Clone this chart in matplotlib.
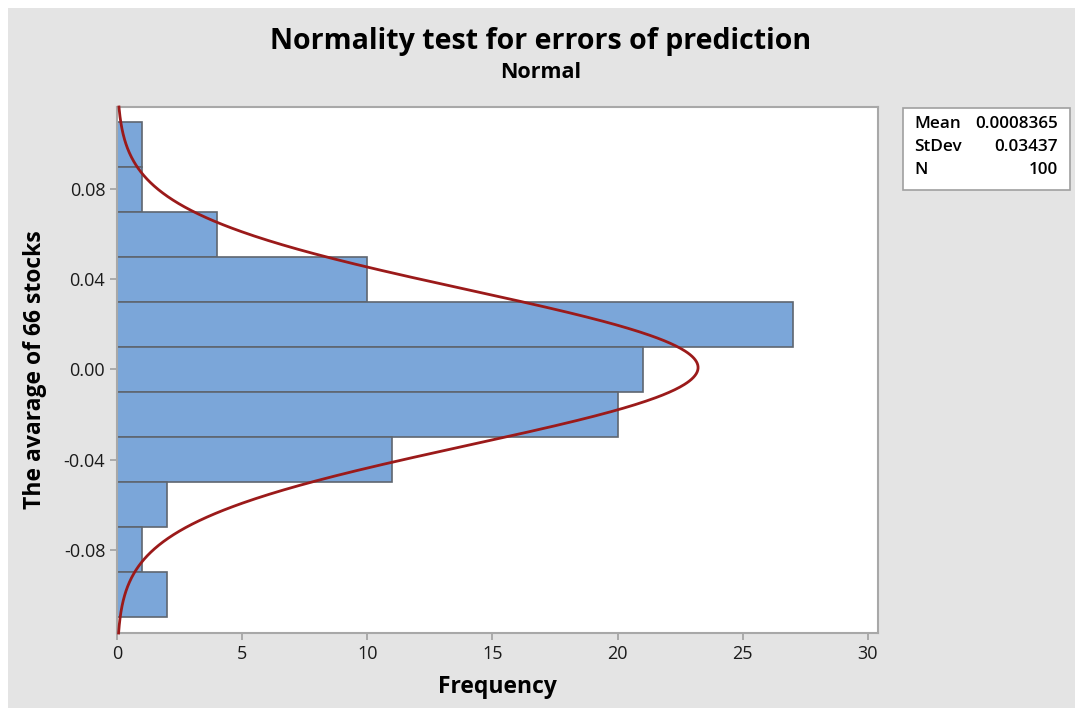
import numpy as np
import matplotlib.pyplot as plt
from matplotlib.patches import Rectangle

bin_centers = [0.10, 0.08, 0.06, 0.04, 0.02, 0.00, -0.02, -0.04, -0.06, -0.08, -0.10]
counts = [1, 1, 4, 10, 27, 21, 20, 11, 2, 1, 2]
bin_width = 0.02
mean = 0.0008365
stdev = 0.03437
n = 100

plt.rcParams["font.family"] = ["Open Sans", "DejaVu Sans"]

fig = plt.figure(figsize=(10.75, 7.08), dpi=100)
fig.patch.set_facecolor("white")
fig.patches.append(Rectangle((8 / 1075, -0.01), 1, 1.01 - 8 / 708, transform=fig.transFigure,
                             facecolor="#e4e4e4", edgecolor="none", zorder=-10))

ax = fig.add_axes([0.1088, 0.1059, 0.7079, 0.743])
ax.set_facecolor("white")

ax.barh(bin_centers, counts, height=bin_width, color="#7ba6d9",
        edgecolor="#5f6670", linewidth=1.2, zorder=2)

ylo, yhi = -0.117, 0.1165
yy = np.linspace(ylo, yhi, 600)
xx = n * bin_width * np.exp(-0.5 * ((yy - mean) / stdev) ** 2) / (stdev * np.sqrt(2 * np.pi))
ax.plot(xx, yy, color="#9b1a1a", linewidth=2, zorder=3, clip_on=False)

ax.set_xlim(0, 30.4)
ax.set_ylim(ylo, yhi)
ax.set_xticks([0, 5, 10, 15, 20, 25, 30])
ax.set_yticks([-0.08, -0.04, 0.00, 0.04, 0.08])
ax.set_yticklabels(["-0.08", "-0.04", "0.00", "0.04", "0.08"])
ax.tick_params(colors="#a0a0a0", labelcolor="#1a1a1a", labelsize=13, length=5, width=1.2)

for s in ax.spines.values():
    s.set_color("#a8a8a8")
    s.set_linewidth(1.5)

ax.set_xlabel("Frequency", fontsize=16.5, fontweight="bold", labelpad=9)
ax.set_ylabel("The avarage of 66 stocks", fontsize=16.5, fontweight="bold", labelpad=12)

fig.text(0.503, 0.941, "Normality test for errors of prediction", ha="center", va="center",
         fontsize=20.5, fontweight="bold")
fig.text(0.503, 0.897, "Normal", ha="center", va="center", fontsize=15.5, fontweight="bold")

# stats box
fig.patches.append(Rectangle((903 / 1075, 1 - 190 / 708), 167 / 1075, 82 / 708,
                             transform=fig.transFigure, facecolor="white",
                             edgecolor="#a0a0a0", linewidth=1.2))
rows = [("Mean", f"{mean:.7f}"), ("StDev", f"{stdev:.5f}"), ("N", f"{n}")]
for i, (lab, val) in enumerate(rows):
    yp = 1 - (124 + i * 23) / 708
    fig.text(914 / 1075, yp, lab, ha="left", va="center", fontsize=12.3, fontweight="semibold")
    fig.text(1058 / 1075, yp, val, ha="right", va="center", fontsize=12.3, fontweight="semibold")

fig.savefig("out.png", dpi=100)
